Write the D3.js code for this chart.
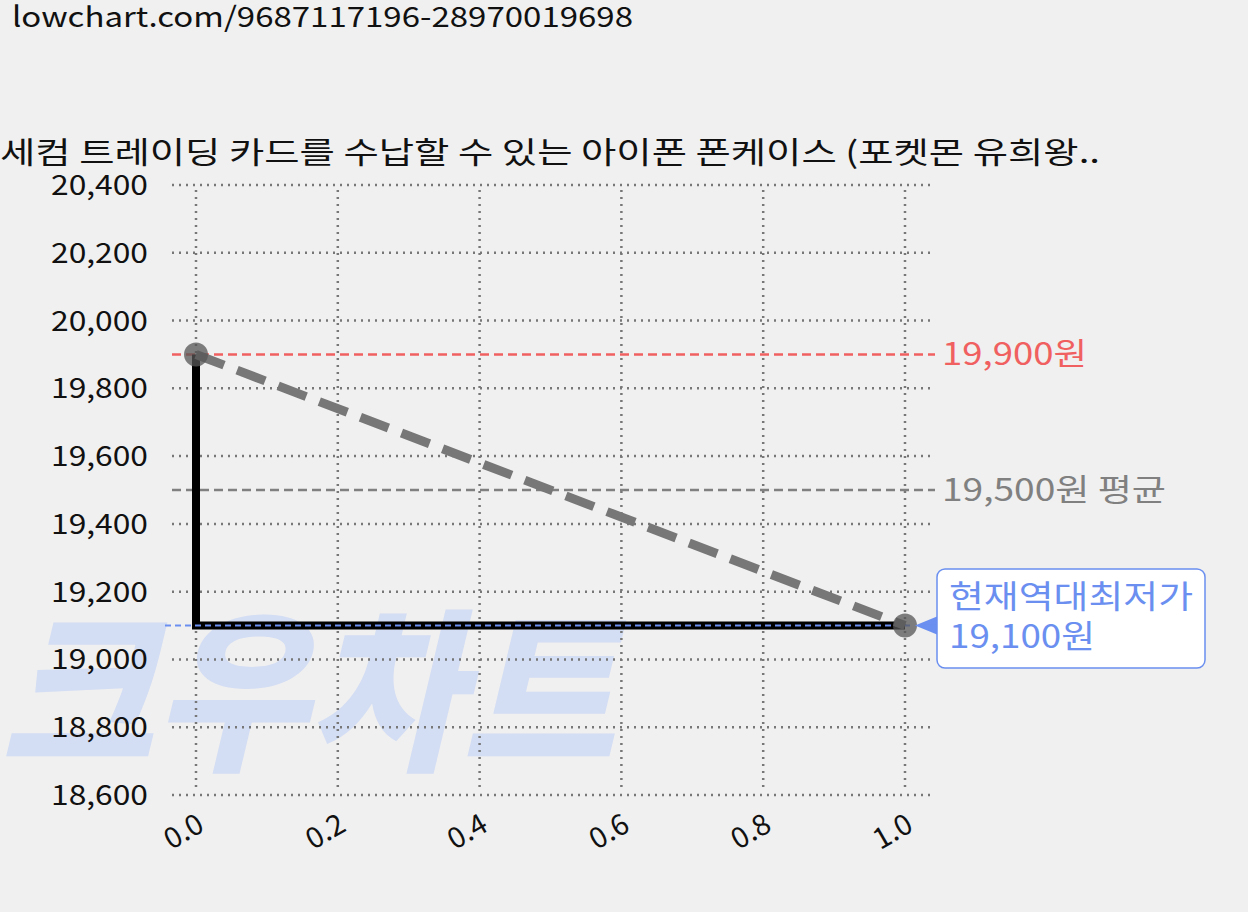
<!DOCTYPE html>
<html><head><meta charset="utf-8">
<script src="https://cdn.jsdelivr.net/npm/d3@7"></script>
<style>body{margin:0;background:#f0f0f0}svg{display:block}text{font-family:"Noto Sans CJK KR",Roboto,sans-serif}</style>
</head><body><svg id="ctner" width="1248" height="912"></svg>
<script>
const xTicks = [0, 0.2, 0.4, 0.6, 0.8, 1.0];
const yTicks = [18600, 18800, 19000, 19200, 19400, 19600, 19800, 20000, 20200, 20400];
const priceX = [0, 1];
const priceY = [19900, 19100];
const stepPts = [[0, 19900], [0, 19100], [1, 19100]];
const maxPrice = 19900, avgPrice = 19500, minPrice = 19100;

const svg = d3.select("#ctner");
svg.append("rect").attr("width", 1248).attr("height", 912).attr("fill", "#f0f0f0");
const x = d3.scaleLinear().domain([0, 1]).range([196, 905]);
const y = d3.scaleLinear().domain([18600, 20400]).range([795, 185]);

function txt(xx, yy, size, fill, s, len) {
  const t = svg.append("text").attr("x", xx).attr("y", yy).attr("font-size", size).attr("fill", fill).text(s);
  if (len) t.attr("textLength", len).attr("lengthAdjust", "spacingAndGlyphs");
  return t;
}
txt(12, 27, 28, "#111", "lowchart.com/9687117196-28970019698", 621);
txt(0, 163, 30, "#111", "세컴 트레이딩 카드를 수납할 수 있는 아이폰 폰케이스 (포켓몬 유희왕..", 1100);

// watermark
svg.append("text").attr("x", 0).attr("y", 757).attr("font-size", 175).attr("font-weight", 900)
  .attr("fill", "#d3ddf3").attr("textLength", 615).attr("lengthAdjust", "spacingAndGlyphs").attr("font-style", "italic").text("크우차트");

// grid
svg.append("g").selectAll("line").data(yTicks).join("line")
  .attr("x1", 172).attr("x2", 935).attr("y1", d => y(d)).attr("y2", d => y(d))
  .attr("stroke", "#777").attr("stroke-width", 2.5).attr("stroke-dasharray", "2,5");
svg.append("g").selectAll("line").data(xTicks).join("line")
  .attr("x1", d => x(d)).attr("x2", d => x(d)).attr("y1", 190).attr("y2", 790)
  .attr("stroke", "#777").attr("stroke-width", 2.5).attr("stroke-dasharray", "2,5");

// tick labels
svg.append("g").selectAll("text").data(yTicks).join("text")
  .attr("x", 148).attr("y", d => y(d) + 10).attr("text-anchor", "end").attr("font-size", 28).attr("fill", "#111")
  .attr("textLength", 97).attr("lengthAdjust", "spacingAndGlyphs")
  .text(d => d3.format(",")(d));
svg.append("g").selectAll("text").data(xTicks).join("text")
  .attr("transform", d => `translate(${x(d) + 10},${830}) rotate(-30)`).attr("text-anchor", "end").attr("font-size", 29).attr("fill", "#111")
  .text(d => d.toFixed(1));

// reference lines
svg.append("line").attr("x1", 172).attr("x2", 935).attr("y1", y(maxPrice)).attr("y2", y(maxPrice))
  .attr("stroke", "#f06060").attr("stroke-width", 2.5).attr("stroke-dasharray", "9,5");
txt(942, y(maxPrice) + 11, 31, "#f06060", "19,900원", 145);
svg.append("line").attr("x1", 172).attr("x2", 935).attr("y1", y(avgPrice)).attr("y2", y(avgPrice))
  .attr("stroke", "#808080").attr("stroke-width", 2.5).attr("stroke-dasharray", "9,5");
txt(942, y(avgPrice) + 11, 31, "#808080", "19,500원 평균", 224);

// step line
svg.append("path").datum(stepPts).attr("d", d3.line().x(d => x(d[0])).y(d => y(d[1])))
  .attr("fill", "none").attr("stroke", "#000").attr("stroke-width", 8);
svg.append("line").attr("x1", 165).attr("x2", 910).attr("y1", y(minPrice)).attr("y2", y(minPrice))
  .attr("stroke", "#6a8ff0").attr("stroke-width", 2).attr("stroke-dasharray", "6,4");
// trend
const pts = priceX.map((v, i) => [v, priceY[i]]);
svg.append("path").datum(pts).attr("d", d3.line().x(d => x(d[0])).y(d => y(d[1])))
  .attr("fill", "none").attr("stroke", "#777").attr("stroke-width", 9).attr("stroke-dasharray", "30,14");
svg.append("g").selectAll("circle").data(pts).join("circle")
  .attr("cx", d => x(d[0])).attr("cy", d => y(d[1])).attr("r", 12).attr("fill", "#555").attr("opacity", 0.75);

// annotation
svg.append("path").attr("d", `M${x(1) + 10},${y(minPrice)} l22,-9 l0,18 z`).attr("fill", "#6a8ff0");
svg.append("line").attr("x1", x(1) + 15).attr("x2", 937).attr("y1", y(minPrice)).attr("y2", y(minPrice)).attr("stroke", "#6a8ff0").attr("stroke-width", 2);
svg.append("rect").attr("x", 937).attr("y", 569).attr("width", 268).attr("height", 99).attr("rx", 8)
  .attr("fill", "#fff").attr("stroke", "#6a8ff0").attr("stroke-width", 1.5);
txt(949, 608, 32, "#6a8ff0", "현재역대최저가", 244);
txt(949, 648, 32, "#6a8ff0", "19,100원", 146);
</script></body></html>
